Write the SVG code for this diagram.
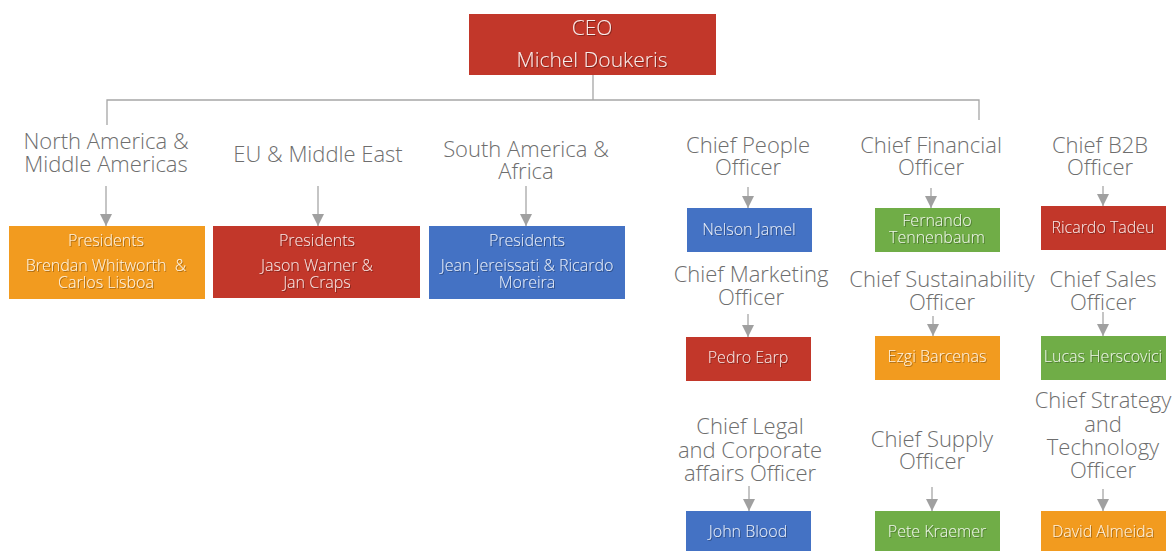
<svg xmlns="http://www.w3.org/2000/svg" width="1172" height="551" viewBox="0 0 1172 551">
<defs>
<marker id="ah" markerUnits="userSpaceOnUse" markerWidth="12" markerHeight="12" refX="12" refY="6" orient="auto">
<path d="M0,0 L12,6 L0,12 z" fill="#a0a0a0"/>
</marker>
<filter id="sh" x="-10%" y="-30%" width="120%" height="160%">
<feDropShadow dx="1" dy="1" stdDeviation="0.7" flood-color="#000" flood-opacity="0.35"/>
</filter>
<style>
.lbl{font-family:"Open Sans","Liberation Sans",sans-serif;font-weight:300;font-size:22px;fill:#6e6e6e;text-anchor:middle}
.bt{font-family:"Open Sans","Liberation Sans",sans-serif;font-weight:300;font-size:16px;fill:#fff;fill-opacity:0.88;text-anchor:middle;filter:url(#sh)}
.ceo{font-family:"Open Sans","Liberation Sans",sans-serif;font-weight:300;font-size:21px;fill:#fff;fill-opacity:0.9;text-anchor:middle;filter:url(#sh)}
.red{fill:#c2372a}.org{fill:#f29b1f}.blu{fill:#4472c4}.grn{fill:#70ad47}
.ln{stroke:#a6a6a6;stroke-width:1.3;fill:none}
.ar{stroke:#a6a6a6;stroke-width:1.3;fill:none;marker-end:url(#ah)}
</style>
</defs>
<rect width="1172" height="551" fill="#fff"/>
<g id="connectors">
<path class="ln" d="M593,75 V100 M107,125 V100 H979 V120"/>
<line class="ar" x1="106" y1="186" x2="106" y2="226"/>
<line class="ar" x1="318" y1="186" x2="318" y2="226"/>
<line class="ar" x1="526" y1="186" x2="526" y2="226"/>
<line class="ar" x1="748" y1="187" x2="748" y2="208"/>
<line class="ar" x1="931" y1="188" x2="931" y2="208"/>
<line class="ar" x1="1103" y1="186" x2="1103" y2="206"/>
<line class="ar" x1="748" y1="314" x2="748" y2="337"/>
<line class="ar" x1="933" y1="316" x2="933" y2="336"/>
<line class="ar" x1="1103" y1="312" x2="1103" y2="336"/>
<line class="ar" x1="749" y1="486" x2="749" y2="511"/>
<line class="ar" x1="932" y1="487" x2="932" y2="511"/>
<line class="ar" x1="1103" y1="489" x2="1103" y2="511"/>
</g>
<g id="ceo">
<rect class="red" x="469" y="14" width="247" height="61"/>
<text class="ceo" x="592" y="35">CEO</text>
<text class="ceo" x="592" y="67">Michel Doukeris</text>
</g>
<g id="north-america">
<text class="lbl" x="106" y="149">North America &amp;</text>
<text class="lbl" x="106" y="172">Middle Americas</text>
</g>
<g id="eu">
<text class="lbl" x="318" y="162">EU &amp; Middle East</text>
</g>
<g id="south-america">
<text class="lbl" x="526" y="157">South America &amp;</text>
<text class="lbl" x="526" y="179">Africa</text>
</g>
<g id="presidents-na">
<rect class="org" x="9" y="226" width="196" height="73"/>
<text class="bt" x="106" y="246">Presidents</text>
<text class="bt" x="106" y="271" style="white-space:pre">Brendan Whitworth  &amp;</text>
<text class="bt" x="106" y="288">Carlos Lisboa</text>
</g>
<g id="presidents-eu">
<rect class="red" x="213" y="226" width="207" height="72"/>
<text class="bt" x="317" y="246">Presidents</text>
<text class="bt" x="317" y="271">Jason Warner &amp;</text>
<text class="bt" x="317" y="288">Jan Craps</text>
</g>
<g id="presidents-sa">
<rect class="blu" x="429" y="226" width="196" height="73"/>
<text class="bt" x="527" y="246">Presidents</text>
<text class="bt" x="527" y="271">Jean Jereissati &amp; Ricardo</text>
<text class="bt" x="527" y="288">Moreira</text>
</g>
<g id="cpo">
<text class="lbl" x="748" y="153">Chief People</text>
<text class="lbl" x="748" y="175">Officer</text>
</g>
<g id="nelson">
<rect class="blu" x="687" y="208" width="125" height="44"/>
<text class="bt" x="749" y="235">Nelson Jamel</text>
</g>
<g id="cmo">
<text class="lbl" x="751" y="282">Chief Marketing</text>
<text class="lbl" x="751" y="305">Officer</text>
</g>
<g id="pedro">
<rect class="red" x="686" y="337" width="125" height="44"/>
<text class="bt" x="748" y="363">Pedro Earp</text>
</g>
<g id="clo">
<text class="lbl" x="750" y="434">Chief Legal</text>
<text class="lbl" x="750" y="458">and Corporate</text>
<text class="lbl" x="750" y="481">affairs Officer</text>
</g>
<g id="john">
<rect class="blu" x="686" y="511" width="125" height="40"/>
<text class="bt" x="748" y="537">John Blood</text>
</g>
<g id="cfo">
<text class="lbl" x="931" y="153">Chief Financial</text>
<text class="lbl" x="931" y="175">Officer</text>
</g>
<g id="fernando">
<rect class="grn" x="875" y="208" width="125" height="44"/>
<text class="bt" x="937" y="226">Fernando</text>
<text class="bt" x="937" y="243">Tennenbaum</text>
</g>
<g id="cso">
<text class="lbl" x="942" y="287">Chief Sustainability</text>
<text class="lbl" x="942" y="310">Officer</text>
</g>
<g id="ezgi">
<rect class="org" x="875" y="336" width="125" height="44"/>
<text class="bt" x="937" y="362">Ezgi Barcenas</text>
</g>
<g id="csupply">
<text class="lbl" x="932" y="447">Chief Supply</text>
<text class="lbl" x="932" y="469">Officer</text>
</g>
<g id="pete">
<rect class="grn" x="875" y="511" width="125" height="40"/>
<text class="bt" x="937" y="537">Pete Kraemer</text>
</g>
<g id="cb2b">
<text class="lbl" x="1100" y="153">Chief B2B</text>
<text class="lbl" x="1100" y="175">Officer</text>
</g>
<g id="ricardo">
<rect class="red" x="1041" y="206" width="125" height="44"/>
<text class="bt" x="1103" y="233">Ricardo Tadeu</text>
</g>
<g id="csales">
<text class="lbl" x="1103" y="287">Chief Sales</text>
<text class="lbl" x="1103" y="310">Officer</text>
</g>
<g id="lucas">
<rect class="grn" x="1041" y="336" width="125" height="44"/>
<text class="bt" x="1103" y="362">Lucas Herscovici</text>
</g>
<g id="cstrategy">
<text class="lbl" x="1103" y="408">Chief Strategy</text>
<text class="lbl" x="1103" y="432">and</text>
<text class="lbl" x="1103" y="455">Technology</text>
<text class="lbl" x="1103" y="478">Officer</text>
</g>
<g id="david">
<rect class="org" x="1041" y="511" width="125" height="40"/>
<text class="bt" x="1103" y="537">David Almeida</text>
</g>
</svg>
